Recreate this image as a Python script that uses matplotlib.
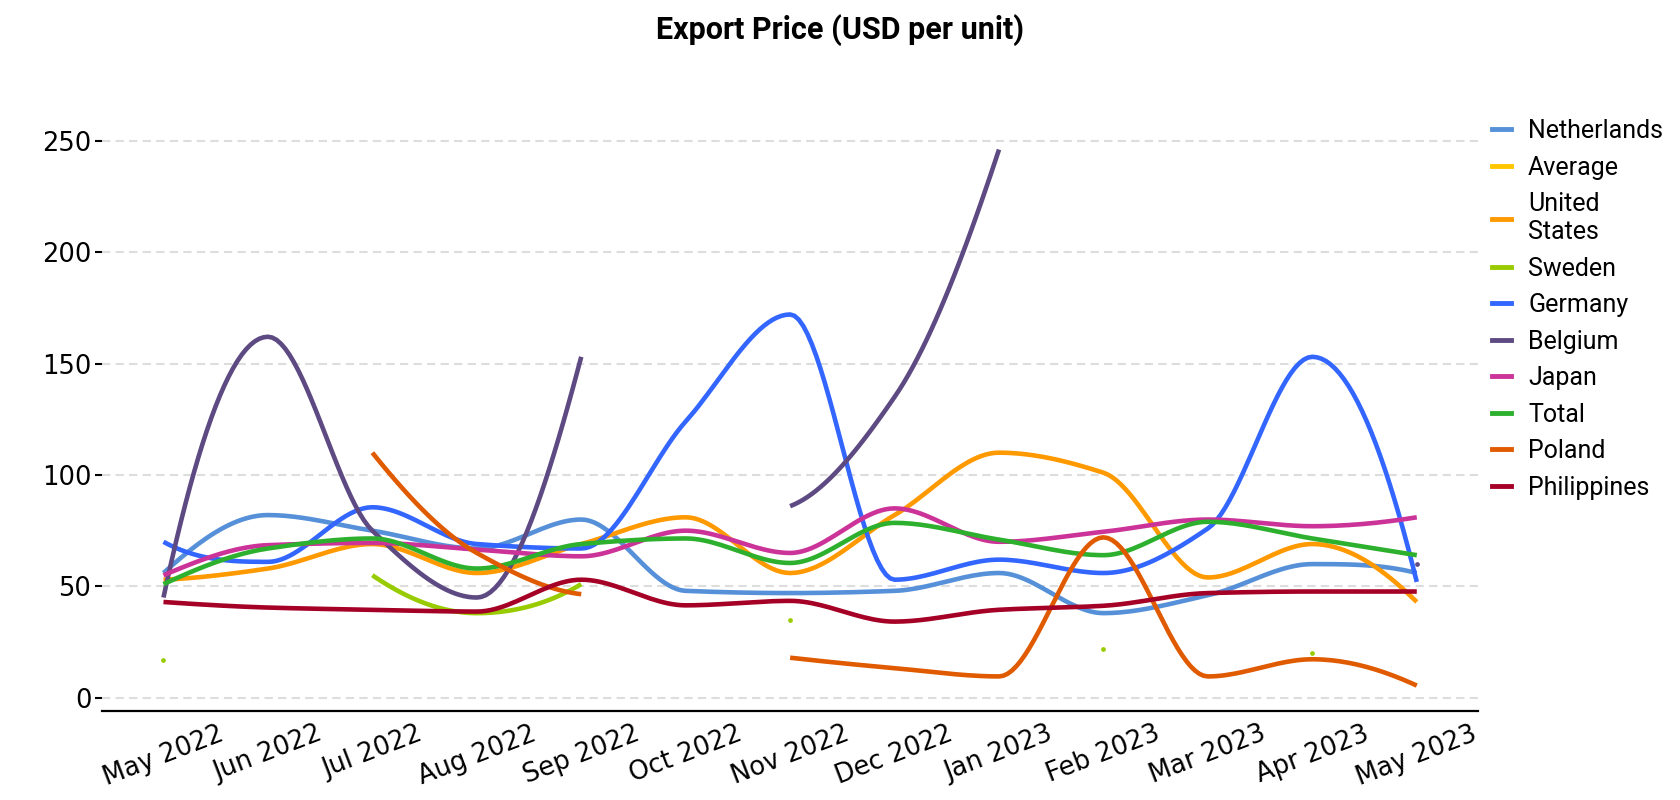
import numpy as np
import matplotlib
matplotlib.use("Agg")
import matplotlib.pyplot as plt
from matplotlib.lines import Line2D

nan = np.nan

months = ["May 2022", "Jun 2022", "Jul 2022", "Aug 2022", "Sep 2022", "Oct 2022",
          "Nov 2022", "Dec 2022", "Jan 2023", "Feb 2023", "Mar 2023", "Apr 2023", "May 2023"]

netherlands = [56, 82, 75, 67, 80, 48, 47, 48, 56, 38, 46, 60, 56]
average = [nan] * 13
united_states = [53, 58, 69, 56, 69, 81, 56, 82, 110, 101, 54, 69, 43]
sweden = [17, nan, 55, 38, 51, nan, 35, nan, nan, 22, nan, 20, nan]
germany = [70, 61, 85.5, 69, 67, 124, 172, 53, 62, 56, 76, 153, 52]
belgium = [45, 162, 75, 45, 153, nan, 86, 135, 246, nan, nan, nan, 60]
japan = [55, 68.5, 69.5, 66.5, 63.5, 75, 65, 85, 70, 74.5, 80, 77, 81]
total = [51, 67, 71.5, 58, 69, 71.5, 60.5, 78.5, 71, 64, 79, 71.5, 64]
poland = [nan, nan, 110, 65, 46.5, nan, 18, 13.3, 9.6, 72, 9.6, 17.3, 5.5]
philippines = [43, 40.5, 39.5, 38.7, 53, 41.5, 43.5, 34.2, 39.5, 41.3, 47, 47.7, 47.7]

labels = ["Netherlands", "Average", "United\nStates", "Sweden", "Germany", "Belgium",
          "Japan", "Total", "Poland", "Philippines"]
colors = ["#5590D8", "#FFC600", "#FF9900", "#99CC00", "#3366FF", "#5E4A82",
          "#CC3399", "#2DB02D", "#E05A00", "#A50026"]
values = [netherlands, average, united_states, sweden, germany, belgium,
          japan, total, poland, philippines]


def pchip_slopes(x, y):
    h = np.diff(x)
    d = np.diff(y) / h
    n = len(x)
    m = np.zeros(n)
    if n == 2:
        m[:] = d[0]
        return m
    for k in range(1, n - 1):
        if d[k - 1] * d[k] <= 0:
            m[k] = 0.0
        else:
            w1 = 2 * h[k] + h[k - 1]
            w2 = h[k] + 2 * h[k - 1]
            m[k] = (w1 + w2) / (w1 / d[k - 1] + w2 / d[k])

    def end(h0, h1, d0, d1):
        s = ((2 * h0 + h1) * d0 - h0 * d1) / (h0 + h1)
        if np.sign(s) != np.sign(d0):
            s = 0.0
        elif np.sign(d0) != np.sign(d1) and abs(s) > abs(3 * d0):
            s = 3 * d0
        return s

    m[0] = end(h[0], h[1], d[0], d[1])
    m[-1] = end(h[-1], h[-2], d[-1], d[-2])
    return m


def smooth(x, y, n=24):
    m = pchip_slopes(x, y)
    xs, ys = [], []
    for i in range(len(x) - 1):
        hh = x[i + 1] - x[i]
        t = np.linspace(0, 1, n, endpoint=(i == len(x) - 2))
        h00 = 2 * t**3 - 3 * t**2 + 1
        h10 = t**3 - 2 * t**2 + t
        h01 = -2 * t**3 + 3 * t**2
        h11 = t**3 - t**2
        xs.append(x[i] + t * hh)
        ys.append(h00 * y[i] + h10 * hh * m[i] + h01 * y[i + 1] + h11 * hh * m[i + 1])
    return np.concatenate(xs), np.concatenate(ys)


def segments(vals):
    v = np.asarray(vals, dtype=float)
    x = np.arange(len(v), dtype=float)
    segs, cur = [], []
    for i in range(len(v)):
        if np.isfinite(v[i]):
            cur.append(i)
        else:
            if cur:
                segs.append(cur)
            cur = []
    if cur:
        segs.append(cur)
    return [(x[s], v[s]) for s in segs]


fig = plt.figure(figsize=(16.8, 8), dpi=100)
ax = fig.add_axes([0.061, 0.111, 0.819, 0.755])

for lab, vals, col in zip(labels, values, colors):
    for sx, sy in segments(vals):
        if len(sx) == 1:
            ax.plot(sx, sy, marker="o", markersize=2.4, color=col, linestyle="none")
        else:
            xs, ys = smooth(sx, sy)
            ax.plot(xs, ys, color=col, lw=3.3, solid_capstyle="butt", solid_joinstyle="round")

ax.set_xlim(-0.584, 12.59)
ax.set_ylim(-6, 265)
ax.set_yticks([0, 50, 100, 150, 200, 250])
ax.set_xticks(range(len(months)))
ax.set_xticklabels(months, rotation=21, ha="center")
ax.tick_params(axis="x", length=0, pad=7, labelsize=18.5)
ax.tick_params(axis="y", length=5, width=1.5, pad=3, labelsize=18.5, color="black")
ax.grid(axis="y", color="#dddddd", lw=1.5, linestyle=(0, (4, 2.5)))
ax.grid(axis="x", visible=False)
ax.set_axisbelow(True)
for s in ["left", "right", "top"]:
    ax.spines[s].set_visible(False)
ax.spines["bottom"].set_linewidth(1.6)
ax.spines["bottom"].set_color("black")

handles = [Line2D([0], [0], color=c, lw=3.5) for c in colors]
fig.legend(handles, labels, loc="upper left", bbox_to_anchor=(0.888, 0.851),
           frameon=False, borderpad=0, borderaxespad=0, handlelength=0.75,
           handletextpad=0.7, labelspacing=0.5,
           prop={"family": "Roboto", "size": 18})

fig.text(0.5, 1 - 30 / 800, "Export Price (USD per unit)", ha="center", va="center",
         fontsize=22, fontweight="bold", family="Roboto")

fig.savefig("out.png", dpi=100)
